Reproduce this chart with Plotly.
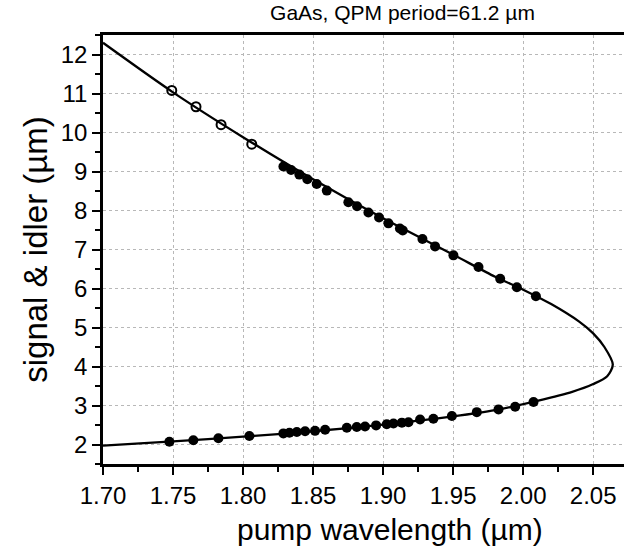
import plotly.graph_objects as go

# Measured points (pump wavelength, signal/idler wavelength)
idler_open_x = [1.7491, 1.7664, 1.7843, 1.8062]
idler_open_y = [11.08, 10.66, 10.20, 9.70]

idler_x = [1.8288, 1.8343, 1.8402, 1.8459, 1.8526, 1.8598, 1.8752, 1.8814, 1.8895,
           1.8971, 1.9038, 1.9120, 1.9140, 1.9281, 1.9371, 1.9502, 1.9681, 1.9836,
           1.9955, 2.0091]
idler_y = [9.13, 9.04, 8.92, 8.80, 8.68, 8.51, 8.21, 8.11, 7.95,
           7.82, 7.67, 7.54, 7.49, 7.27, 7.08, 6.85, 6.55, 6.25,
           6.03, 5.80]

signal_x = [1.7474, 1.7645, 1.7824, 1.8045, 1.8288, 1.8331, 1.8384, 1.8443, 1.8514,
            1.8586, 1.8741, 1.8812, 1.8871, 1.8950, 1.9026, 1.9074, 1.9134, 1.9181,
            1.9264, 1.9359, 1.9491, 1.9669, 1.9824, 1.9943, 2.0074]
signal_y = [2.07, 2.11, 2.16, 2.22, 2.285, 2.30, 2.32, 2.34, 2.35,
            2.38, 2.43, 2.45, 2.46, 2.49, 2.52, 2.54, 2.56, 2.57,
            2.64, 2.66, 2.73, 2.83, 2.90, 2.97, 3.09]

# Theoretical tuning curve (upper branch -> turning point -> lower branch)
curve_x = [1.700, 1.75, 1.80, 1.85, 1.90, 1.95, 1.98, 2.00, 2.02, 2.04, 2.05, 2.058,
           2.064, 2.060, 2.05, 2.035, 2.01, 1.98, 1.95, 1.90, 1.85, 1.80, 1.75, 1.70]
curve_y = [12.30, 11.03, 9.88, 8.80, 7.80, 6.87, 6.30, 5.97, 5.60, 5.15, 4.85, 4.50,
           4.05, 3.75, 3.55, 3.35, 3.12, 2.88, 2.72, 2.51, 2.34, 2.20, 2.08, 1.97]

x_ticks = [1.70, 1.75, 1.80, 1.85, 1.90, 1.95, 2.00, 2.05]
y_ticks = [2, 3, 4, 5, 6, 7, 8, 9, 10, 11, 12]

FONT = "Liberation Sans, Arial, sans-serif"

fig = go.Figure()
fig.add_trace(go.Scatter(x=curve_x, y=curve_y, mode="lines",
                         line=dict(color="black", width=2.3, shape="spline", smoothing=0.8),
                         hoverinfo="skip", showlegend=False))
fig.add_trace(go.Scatter(x=signal_x, y=signal_y, mode="markers",
                         marker=dict(symbol="circle", size=10, color="black"),
                         showlegend=False))
fig.add_trace(go.Scatter(x=idler_x, y=idler_y, mode="markers",
                         marker=dict(symbol="circle", size=10, color="black"),
                         showlegend=False))
fig.add_trace(go.Scatter(x=idler_open_x, y=idler_open_y, mode="markers",
                         marker=dict(symbol="circle-open", size=9, color="black",
                                     line=dict(width=2, color="black")),
                         showlegend=False))

fig.update_layout(
    width=624, height=552,
    margin=dict(l=103, r=0, t=35, b=88),
    paper_bgcolor="white", plot_bgcolor="white",
    font=dict(family=FONT, color="black"),
    title=dict(text="GaAs, QPM period=61.2 \u00b5m", x=0.645, xanchor="center",
               y=0.99, yanchor="top", yref="container",
               font=dict(size=21, family=FONT, color="black")),
    annotations=[dict(text="pump wavelength (\u00b5m)", xref="paper", yref="paper",
                      x=0.55, y=-0.152, xanchor="center", yanchor="middle",
                      showarrow=False, font=dict(size=30, family=FONT, color="black"))],
)
fig.update_xaxes(
    range=[1.70, 2.072], tickvals=x_ticks, tickformat=".2f",
    ticks="outside", ticklen=8, tickwidth=2, tickcolor="black",
    minor=dict(dtick=0.025, tick0=1.70, ticks="outside", ticklen=5, tickwidth=2, tickcolor="black", showgrid=False),
    showline=True, linewidth=2.5, linecolor="black", mirror=True,
    showgrid=True, gridcolor="#b8b8b8", gridwidth=1, griddash="dot",
    zeroline=False,
    tickfont=dict(size=24, family=FONT, color="black"),
)
fig.update_yaxes(
    range=[1.5, 12.5], tickvals=y_ticks,
    ticks="outside", ticklen=8, tickwidth=2, tickcolor="black",
    minor=dict(dtick=0.5, tick0=1.5, ticks="outside", ticklen=5, tickwidth=2, tickcolor="black", showgrid=False),
    showline=True, linewidth=2.5, linecolor="black", mirror=False,
    showgrid=True, gridcolor="#b8b8b8", gridwidth=1, griddash="dot",
    zeroline=False,
    tickfont=dict(size=24, family=FONT, color="black"),
    title=dict(text="signal &amp; idler (\u00b5m)", font=dict(size=33, family=FONT, color="black"), standoff=4),
)

fig.write_html("out.html")
